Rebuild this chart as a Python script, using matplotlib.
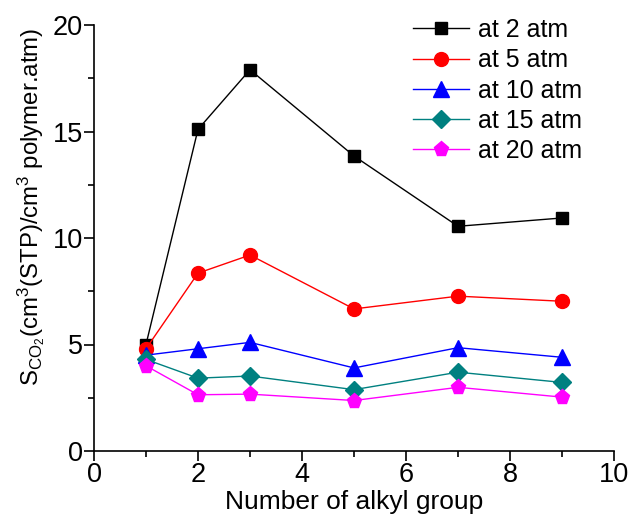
import matplotlib
matplotlib.use("Agg")
import matplotlib.pyplot as plt
from matplotlib.ticker import MultipleLocator

plt.rcParams['font.family'] = ['Liberation Sans', 'DejaVu Sans']
plt.rcParams['mathtext.default'] = 'regular'

# number of alkyl groups
alkyl = [1, 2, 3, 5, 7, 9]

# CO2 solubility at each pressure
s_2atm = [5.0, 15.1, 17.9, 13.85, 10.55, 10.94]
s_5atm = [4.8, 8.35, 9.2, 6.67, 7.27, 7.03]
s_10atm = [4.5, 4.8, 5.1, 3.9, 4.85, 4.4]
s_15atm = [4.3, 3.42, 3.52, 2.88, 3.7, 3.22]
s_20atm = [4.0, 2.64, 2.67, 2.37, 2.99, 2.53]

labels = ["at 2 atm", "at 5 atm", "at 10 atm", "at 15 atm", "at 20 atm"]

W, H = 630, 520
fig = plt.figure(figsize=(W / 100, H / 100), dpi=100)
# axes box in pixels: x 94..614, y 25..451
ax = fig.add_axes([94 / W, 1 - 451 / H, 520 / W, 426 / H])

series = [
    (s_2atm, "black", "s", 9),
    (s_5atm, "red", "o", 10),
    (s_10atm, "blue", "^", 11),
    (s_15atm, "#008080", "D", 9),
    (s_20atm, "#ff00ff", "p", 11),
]
for (vals, col, mk, ms), lab in zip(series, labels):
    ax.plot(alkyl, vals, color=col, marker=mk, markersize=ms, lw=1,
            markeredgecolor=col, label=lab)

ax.set_xlim(0, 10)
ax.set_ylim(0, 20)
ax.xaxis.set_major_locator(MultipleLocator(2))
ax.xaxis.set_minor_locator(MultipleLocator(1))
ax.yaxis.set_major_locator(MultipleLocator(5))
ax.yaxis.set_minor_locator(MultipleLocator(2.5))
ax.spines['top'].set_visible(False)
ax.spines['right'].set_visible(False)
for s in ['left', 'bottom']:
    ax.spines[s].set_linewidth(1.2)
ax.tick_params(which='major', direction='out', length=7, width=1.2,
               labelsize=19.5, pad=1)
ax.tick_params(which='minor', direction='out', length=4, width=1.2)

ax.set_xlabel("Number of alkyl group", fontsize=19, labelpad=1)
ax.set_ylabel("S$_{CO_2}$(cm$^3$(STP)/cm$^3$ polymer.atm)", fontsize=17.3)
ax.yaxis.set_label_coords((47 - 94) / 520, (451 - 207) / 426)

ax.legend(loc='upper left', frameon=False, fontsize=18, handlelength=2.25,
          handletextpad=0.33, labelspacing=0.25, borderpad=0,
          borderaxespad=0, bbox_to_anchor=(413 / W, 1 - 18 / H),
          bbox_transform=fig.transFigure)

fig.savefig("out.png", dpi=100)
